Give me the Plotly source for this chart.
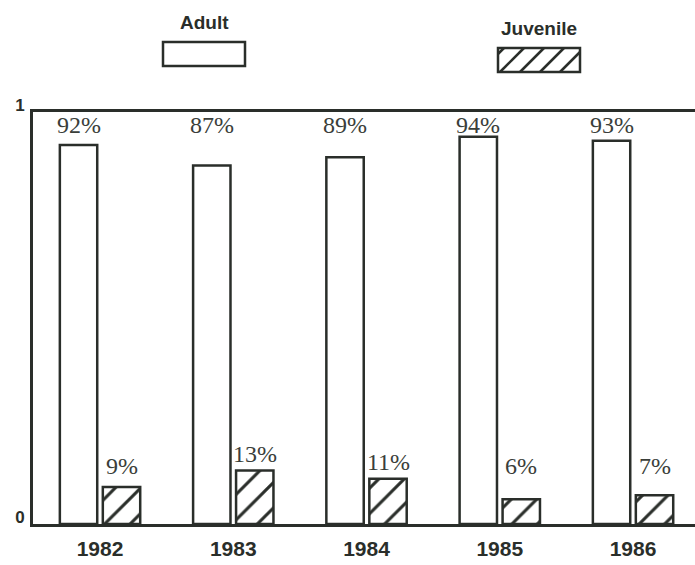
import plotly.graph_objects as go

# Survival rates by year
years = ["1982", "1983", "1984", "1985", "1986"]
adult = [0.92, 0.87, 0.89, 0.94, 0.93]
juvenile = [0.09, 0.13, 0.11, 0.06, 0.07]
adult_labels = ["92%", "87%", "89%", "94%", "93%"]
juvenile_labels = ["9%", "13%", "11%", "6%", "7%"]

W, H = 695, 565
ML, MR, MT, MB = 33, 0, 112, 41
PW, PH = W - ML - MR, H - MT - MB
INK = "#2a2e2a"
BARGAP = 0.355
GROUPGAP = 0.13
HATCH = dict(shape="/", fgcolor=INK, fgopacity=1, bgcolor="white", size=18, solidity=0.17)

fig = go.Figure()
fig.add_bar(
    x=years, y=adult, name="Adult",
    marker=dict(color="white", line=dict(color=INK, width=2.5)),
)
fig.add_bar(
    x=years, y=juvenile, name="Juvenile",
    marker=dict(color="white", line=dict(color=INK, width=2.5), pattern=HATCH),
)

# value labels: adult row along the top, juvenile just above the short bars
half = (1 - BARGAP) / 4
label_font = dict(family="Liberation Serif", size=24, color="#3a3e3a")
annotations = []
for i, (a, j) in enumerate(zip(adult, juvenile)):
    annotations.append(dict(x=i - half, y=0.968, xref="x", yref="y", text=adult_labels[i],
                            showarrow=False, font=label_font, yanchor="middle"))
    annotations.append(dict(x=i + half, y=max(j + 0.04, 0.14), xref="x", yref="y",
                            text=juvenile_labels[i], showarrow=False, font=label_font,
                            yanchor="middle"))


def px(x):
    return (x - ML) / PW


def py(y):
    return (H - MB - y) / PH


legend_font = dict(family="Liberation Sans", size=19, color=INK, weight="bold")
annotations.append(dict(x=px(204), y=py(22), xref="paper", yref="paper", text="<b>Adult</b>",
                        showarrow=False, font=legend_font, xanchor="center", yanchor="middle"))
annotations.append(dict(x=px(539), y=py(29), xref="paper", yref="paper", text="<b>Juvenile</b>",
                        showarrow=False, font=legend_font, xanchor="center", yanchor="middle"))

shapes = []
box_line = dict(color=INK, width=2.5)
shapes.append(dict(type="rect", xref="paper", yref="paper", x0=px(163), x1=px(245),
                   y0=py(66), y1=py(42), line=box_line, fillcolor="white"))
jx0, jx1, jy0, jy1 = 498, 580, 48, 72
shapes.append(dict(type="rect", xref="paper", yref="paper", x0=px(jx0), x1=px(jx1),
                   y0=py(jy1), y1=py(jy0), line=box_line, fillcolor="white"))

# hatch strokes for the juvenile legend swatch, clipped to the box
step = 20
hgt = jy1 - jy0
start = jx0 - hgt + 6
while start < jx1:
    bx, by = start, jy1
    tx, ty = start + hgt, jy0
    if bx < jx0:
        by = jy1 - (jx0 - bx)
        bx = jx0
    if tx > jx1:
        ty = jy0 + (tx - jx1)
        tx = jx1
    if tx > bx:
        shapes.append(dict(type="line", xref="paper", yref="paper",
                           x0=px(bx), y0=py(by), x1=px(tx), y1=py(ty),
                           line=dict(color=INK, width=2.5)))
    start += step

fig.update_layout(
    width=W, height=H,
    margin=dict(l=ML, r=MR, t=MT, b=MB),
    paper_bgcolor="white", plot_bgcolor="white",
    barmode="group", bargap=BARGAP, bargroupgap=GROUPGAP,
    showlegend=False,
    annotations=annotations, shapes=shapes,
)
fig.update_xaxes(
    type="category", range=[-0.503, 4.465],
    showline=True, linecolor=INK, linewidth=3, mirror=True,
    ticks="", showgrid=False, zeroline=False,
    tickfont=dict(family="Liberation Sans", size=21, color=INK, weight="bold"),
    ticklabelstandoff=4,
)
fig.update_yaxes(
    range=[0, 1], tickvals=[0, 1], ticktext=["0", "1"],
    showline=True, linecolor=INK, linewidth=3, mirror=False,
    ticks="", showgrid=False, zeroline=False,
    tickfont=dict(family="Liberation Sans", size=17, color=INK, weight="bold"),
    ticklabelstandoff=2, ticklabelshift=-7,
)

fig.write_html("out.html")
